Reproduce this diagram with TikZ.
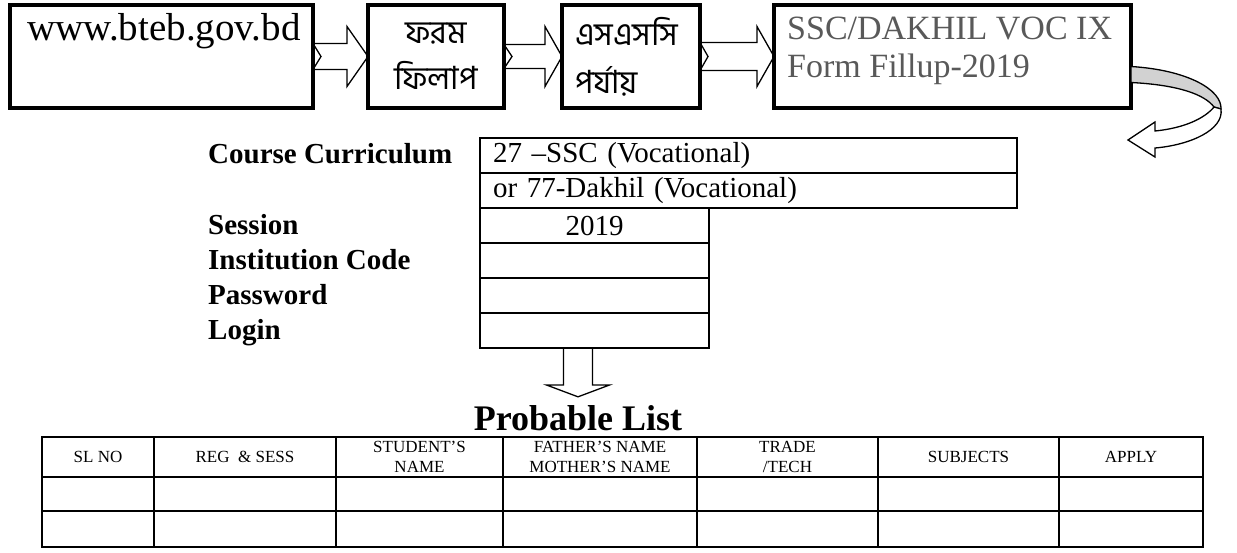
\documentclass[tikz,border=0pt]{standalone}
\usepackage{fontspec}
\setmainfont{Liberation Serif}
\newfontfamily\bnfont[Script=Bengali]{Hind Siliguri}
\usetikzlibrary{positioning,calc}

\begin{document}
\begin{tikzpicture}[x=1pt,y=-1pt,
topbox/.style={rectangle, draw=black, line width=4.5pt, outer sep=0pt, minimum height=103pt},
blockarr/.style={draw=black, line width=1.3pt, line join=miter},
field/.style={rectangle, draw=black, line width=1.3pt, outer sep=0pt, inner sep=0pt, minimum height=35pt, font=\fontsize{29}{32}\selectfont},
fieldlbl/.style={anchor=base west, inner sep=0pt, font=\bfseries\fontsize{29}{32}\selectfont},
th/.style={rectangle, draw=black, line width=1.4pt, outer sep=0pt, inner sep=0pt, align=center, minimum height=40pt, font=\fontsize{17}{20}\selectfont},
td/.style={rectangle, draw=black, line width=1.4pt, outer sep=0pt, inner sep=0pt}
]
\useasboundingbox (0,0) rectangle (1237,552);

% top row of boxes
\node[topbox, minimum width=303pt](web_box) at (161.5,56.5){};
\node[anchor=base west, inner sep=0pt, font=\fontsize{39}{40}\selectfont](web_txt) at (27,40){www.bteb.gov.bd};
\node[topbox, minimum width=136pt, align=center, font=\bnfont\fontsize{32}{46}\selectfont](form_box)[right=55pt of web_box]{ফরম\\ফিলাপ};
\node[topbox, minimum width=138pt, text width=112pt, align=left, font=\bnfont\fontsize{32}{48}\selectfont](ssc_box)[right=58pt of form_box]{এসএসসি\\পর্যায়};
\node[topbox, minimum width=357pt](voc_box)[right=74pt of ssc_box]{};
\node[anchor=north west, inner sep=0pt, align=left, text=black!65, font=\fontsize{34}{38}\selectfont](voc_txt) at (787,17){SSC/DAKHIL VOC IX\\Form Fillup-2019};

\foreach \a/\b/\s/\h in {web_box/form_box/13/21, form_box/ssc_box/12/17, ssc_box/voc_box/14/17}
  \draw[blockarr] ($(\a.east)+(0,-\s)$) -- ($(\b.west)+(-\h,-\s)$) -- ($(\b.west)+(-\h,-30)$) -- (\b.west)
    -- ($(\b.west)+(-\h,30)$) -- ($(\b.west)+(-\h,\s)$) -- ($(\a.east)+(0,\s)$) -- ($(\a.east)+(8,0)$) -- cycle;

% curved arrow back to the login form
\coordinate (curve_tip) at (1128,140);
\draw[line width=1.3pt, fill=gray!35] ($(voc_box.east)+(0,10)$) .. controls (1188,70) and (1222,90) .. (1221,109)
  -- (1214,107) .. controls (1205,95) and (1180,85) .. ($(voc_box.east)+(0,26)$) -- cycle;
\draw[line width=1.3pt, fill=white] (1221,109) .. controls (1224,130) and (1190,145) .. (1155,148)
  -- (1155,157) -- (curve_tip) -- (1155,122) -- (1155,131) .. controls (1185,128) and (1205,118) .. (1214,107) -- cycle;

% login form
\node[fieldlbl](curr_lbl) at (208,163){Course Curriculum};
\node[fieldlbl](session_lbl) at (208,234){Session};
\node[fieldlbl](inst_lbl) at (208,269){Institution Code};
\node[fieldlbl](pass_lbl) at (208,304){Password};
\node[fieldlbl](login_lbl) at (208,339){Login};

\node[field, minimum width=537pt, text width=511pt, align=left](curr_one) at (748.5,155.5){27 --SSC (Vocational)};
\node[field, minimum width=537pt, text width=511pt, align=left](curr_two)[below=0pt of curr_one]{or 77-Dakhil (Vocational)};
\node[field, minimum width=229pt](session_cell)[below=0pt of curr_two.south west, anchor=north west]{2019};
\node[field, minimum width=229pt](inst_cell)[below=0pt of session_cell]{};
\node[field, minimum width=229pt](pass_cell)[below=0pt of inst_cell]{};
\node[field, minimum width=229pt](login_cell)[below=0pt of pass_cell]{};

\node[anchor=base, inner sep=0pt, font=\bfseries\fontsize{36}{40}\selectfont](prob_title) at (578,430){Probable List};
\draw[blockarr] ($(prob_title.north |- login_cell.south)+(-14.5,0)$) -- ++(0,37) -- ++(-17,0) -- ($(prob_title.north)+(0,-8)$)
  -- ($(prob_title.north |- login_cell.south)+(31.5,37)$) -- ++(-17,0) -- ++(0,-37);

% probable list table
\foreach \col/\xa/\xb/\head in {1/42/154/{SL NO}, 2/154/336/{REG\ \ \& SESS}, 3/336/503/{STUDENT’S\\NAME},
    4/503/697/{FATHER’S NAME\\MOTHER’S NAME}, 5/697/878/{TRADE\\/TECH}, 6/878/1059/{SUBJECTS}, 7/1059/1203/{APPLY}}{
  \node[th, minimum width=\xb-\xa](head_\col) at ({(\xa+\xb)/2},457){\head};
  \node[td, minimum width=\xb-\xa, minimum height=34pt](rowa_\col)[below=0pt of head_\col]{};
  \node[td, minimum width=\xb-\xa, minimum height=36pt](rowb_\col)[below=0pt of rowa_\col]{};
}
\end{tikzpicture}
\end{document}
